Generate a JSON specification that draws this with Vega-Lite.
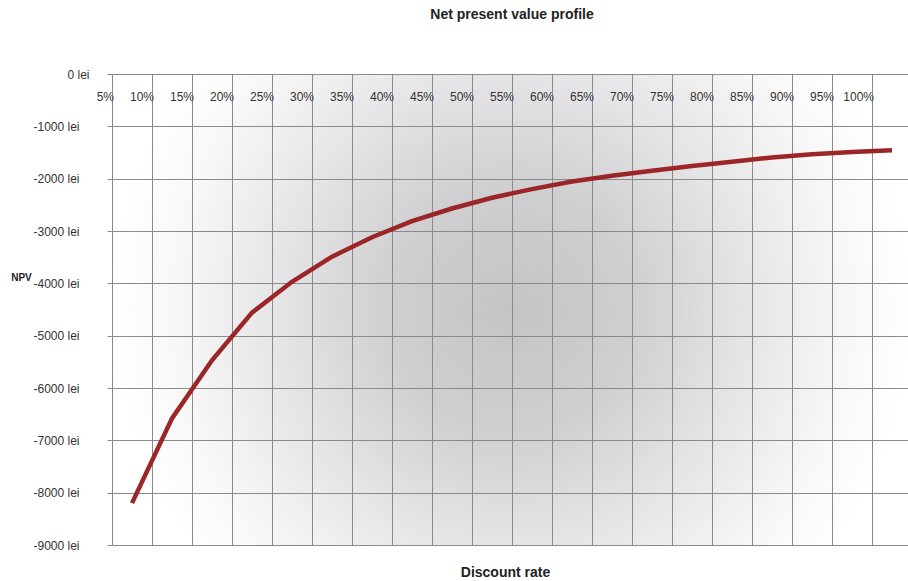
{
  "$schema": "https://vega.github.io/schema/vega-lite/v6.json",
  "width": 800,
  "height": 471,
  "autosize": {"type": "none"},
  "padding": {"left": 112, "top": 74, "right": 0, "bottom": 36},
  "background": "white",
  "title": {
    "text": "Net present value profile",
    "font": "Liberation Sans, Arial, sans-serif",
    "fontSize": 14,
    "fontWeight": "bold",
    "color": "#222222",
    "anchor": "middle",
    "baseline": "bottom",
    "offset": 32
  },
  "config": {
    "font": "Liberation Sans, Arial, sans-serif",
    "view": {
      "stroke": null,
      "fill": {
        "gradient": "radial",
        "x1": 0.5, "y1": 0.5, "r1": 0,
        "x2": 0.5, "y2": 0.5, "r2": 0.5,
        "stops": [
          {"offset": 0, "color": "#c4c4c6"},
          {"offset": 0.3, "color": "#cfcfd1"},
          {"offset": 0.6, "color": "#e6e6e8"},
          {"offset": 0.85, "color": "#f8f8f8"},
          {"offset": 1, "color": "#ffffff"}
        ]
      }
    }
  },
  "data": {
    "values": [
      {"rate": "5%", "npv": -8200},
      {"rate": "10%", "npv": -6580},
      {"rate": "15%", "npv": -5470},
      {"rate": "20%", "npv": -4560},
      {"rate": "25%", "npv": -3970},
      {"rate": "30%", "npv": -3490},
      {"rate": "35%", "npv": -3120},
      {"rate": "40%", "npv": -2810},
      {"rate": "45%", "npv": -2570},
      {"rate": "50%", "npv": -2365},
      {"rate": "55%", "npv": -2200},
      {"rate": "60%", "npv": -2055},
      {"rate": "65%", "npv": -1945},
      {"rate": "70%", "npv": -1850},
      {"rate": "75%", "npv": -1760},
      {"rate": "80%", "npv": -1675},
      {"rate": "85%", "npv": -1595},
      {"rate": "90%", "npv": -1535},
      {"rate": "95%", "npv": -1490},
      {"rate": "100%", "npv": -1455}
    ]
  },
  "mark": {"type": "line", "color": "#9b2527", "strokeWidth": 4.5, "clip": false},
  "encoding": {
    "x": {
      "field": "rate",
      "type": "ordinal",
      "sort": null,
      "scale": {"type": "band", "paddingInner": 0, "paddingOuter": 0},
      "axis": {
        "orient": "top",
        "bandPosition": 0,
        "grid": true,
        "gridColor": "#8a8a8a",
        "gridWidth": 1,
        "ticks": false,
        "tickSize": 0,
        "domain": false,
        "labelAngle": 0,
        "labelAlign": "right",
        "labelBaseline": "middle",
        "labelPadding": -22,
        "labelOffset": -18,
        "labelFontSize": 12,
        "labelColor": "#333333",
        "title": "Discount rate",
        "titleFontSize": 14,
        "titleFontWeight": "bold",
        "titleColor": "#222222",
        "titleX": 393,
        "titleY": 498,
        "titleBaseline": "middle"
      }
    },
    "y": {
      "field": "npv",
      "type": "quantitative",
      "scale": {"domain": [-9000, 0], "nice": false},
      "axis": {
        "values": [-9000, -8000, -7000, -6000, -5000, -4000, -3000, -2000, -1000, 0],
        "grid": true,
        "gridColor": "#8a8a8a",
        "gridWidth": 1,
        "domain": false,
        "tickSize": 5,
        "tickColor": "#8a8a8a",
        "labelPadding": {"condition": {"test": "datum.value == 0", "value": 18}, "value": 28},
        "labelExpr": "datum.value + ' lei'",
        "labelFontSize": 12,
        "labelColor": "#333333",
        "labelBaseline": "middle",
        "title": "NPV",
        "titleAngle": 0,
        "titleX": -91,
        "titleY": 203,
        "titleAlign": "center",
        "titleBaseline": "middle",
        "titleFontSize": 10,
        "titleFontWeight": "bold",
        "titleColor": "#222222"
      }
    }
  }
}
